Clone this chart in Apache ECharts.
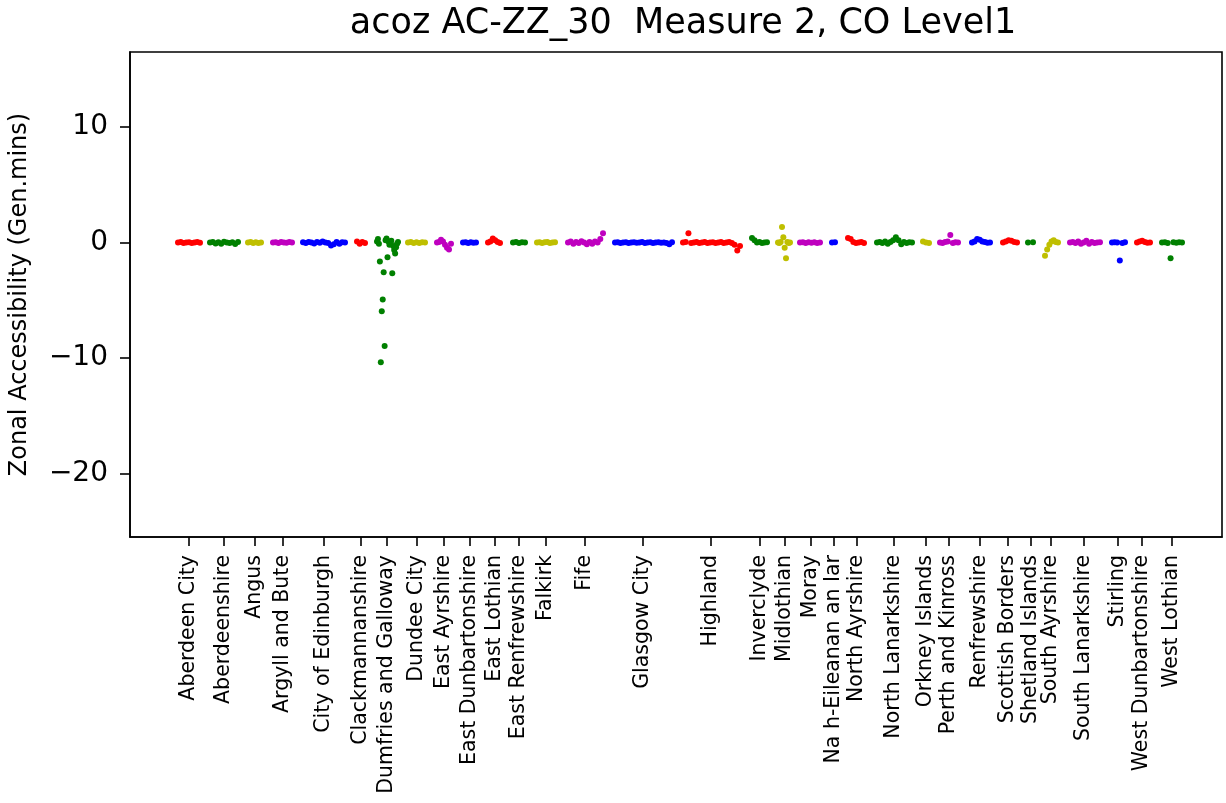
<!DOCTYPE html>
<html>
<head>
<meta charset="utf-8">
<script src="https://cdn.jsdelivr.net/npm/echarts@6/dist/echarts.min.js"></script>
<style>
  html, body { margin: 0; padding: 0; background: #fff; }
  #chart { width: 1226px; height: 803px; }
</style>
</head>
<body>
<div id="chart"></div>
<script>
// council areas, in plot order
const councils = ['Aberdeen City', 'Aberdeenshire', 'Angus', 'Argyll and Bute', 'City of Edinburgh',
  'Clackmannanshire', 'Dumfries and Galloway', 'Dundee City', 'East Ayrshire', 'East Dunbartonshire',
  'East Lothian', 'East Renfrewshire', 'Falkirk', 'Fife', 'Glasgow City', 'Highland', 'Inverclyde',
  'Midlothian', 'Moray', 'Na h-Eileanan an Iar', 'North Ayrshire', 'North Lanarkshire', 'Orkney Islands',
  'Perth and Kinross', 'Renfrewshire', 'Scottish Borders', 'Shetland Islands', 'South Ayrshire',
  'South Lanarkshire', 'Stirling', 'West Dunbartonshire', 'West Lothian']

// zone index range of each council on the x axis, and the tick (centre) position
const zoneFrom = [48, 80, 118, 143, 173, 227, 247, 278, 307, 333, 358, 383, 407, 438, 485, 553,
  622, 648, 670, 702, 718, 747, 793, 810, 842, 873, 898, 915, 940, 982, 1007, 1032]
const zoneTo = [70, 108, 131, 162, 215, 235, 268, 295, 321, 346, 370, 395, 425, 473, 542, 610,
  637, 660, 690, 705, 734, 782, 799, 828, 860, 887, 903, 928, 970, 995, 1020, 1052]
const tickPos = [58.3, 93.3, 125, 152.3, 194, 231, 256.7, 286.7, 314, 339.3, 364.3, 389, 416, 454.3,
  512.7, 581, 629.7, 654.4, 680.4, 703.5, 726.3, 763.4, 795.3, 818.5, 850, 878, 900.3, 921.1,
  953.8, 987.8, 1012.1, 1041.7]

// zonal accessibility values (Gen.mins) per council
const aberdeenCity = [0, 0.05, -0.05, 0, 0.02, -0.03, 0, 0.04, -0.02]
const aberdeenshire = [0, 0.05, -0.08, 0.03, -0.1, 0.06, 0, -0.05, 0.02, -0.12, 0.04]
const angus = [0, 0.04, -0.03, 0.02, -0.05, 0]
const argyll = [0, 0.03, -0.04, 0.05, 0, -0.02, 0.04, 0]
const edinburgh = [0.02, -0.05, 0.05, 0, -0.08, 0.04, -0.02, 0.08, 0, -0.05, -0.25, -0.15, 0.05, -0.1, 0.02, 0]
const clackmannan = [0.1, -0.1, 0.05, -0.05]
const dumfries = [0.1, 0.3, -0.1, -1.65, -10.36, -5.95, -4.93, -2.57, -8.97, 0.2, 0.35, -1.27, 0.1,
  -0.2, 0, 0.15, -2.65, -0.3, -0.65, -0.95, -0.4, -0.1, 0.05]
const dundee = [0, 0.04, -0.03, 0.02, -0.04, 0.03, 0]
const eastAyrshire = [0, 0.05, 0.25, 0.1, -0.2, -0.45, -0.6, -0.1]
const eastDunbarton = [0, 0.03, -0.04, 0.02, -0.02, 0]
const eastLothian = [0, 0.1, 0.35, 0.2, 0.05, -0.05]
const eastRenfrew = [0, 0.05, -0.03, 0.02, 0]
const falkirk = [0, 0.03, -0.04, 0.02, 0.05, -0.03, 0, 0.02]
const fife = [0, 0.1, -0.1, 0.05, -0.05, 0.12, 0, -0.15, 0.05, -0.1, 0.1, 0, 0.3, 0.8]
const glasgow = [0, 0.03, -0.03, 0, 0.02, -0.05, 0, 0.03, -0.02, 0, 0.04, -0.04, 0, 0.02, -0.03,
  0, 0.03, -0.02, 0, -0.04, -0.15, 0.02]
const highland = [0, 0.05, 0.8, -0.05, 0, 0.05, -0.05, 0, 0.05, -0.05, 0, 0.03, -0.03, 0, 0.05,
  -0.05, 0, 0.04, -0.04, -0.2, -0.7, -0.3]
const inverclyde = [0.4, 0.2, 0, 0.05, -0.05, 0, 0.02]
const midlothian = [0, -0.05, 0.05, 1.35, 0.45, -0.45, -1.35, 0.05, -0.05, 0]
const moray = [0, 0.03, -0.03, 0.02, -0.02, 0.03, -0.03, 0]
const eileanSiar = [0, 0.02]
const northAyrshire = [0.4, 0.3, 0.05, -0.05, 0, 0.05, -0.03]
const northLanark = [0, 0.05, -0.05, 0.1, -0.1, 0.05, 0.2, 0.45, 0.2, -0.15, 0.05, -0.05, 0.02, 0]
const orkney = [0.1, 0, -0.05]
const perth = [0, -0.05, 0.05, 0.1, 0.65, -0.05, 0.03, 0]
const renfrew = [0, 0.1, 0.3, 0.25, 0.1, 0.05, -0.02, 0]
const borders = [0, 0.1, 0.2, 0.15, 0.05, 0]
const shetland = [0, 0.02]
const southAyrshire = [-1.15, -0.6, -0.2, 0.1, 0.2, 0.05, 0]
const southLanark = [0, 0.05, -0.05, 0.1, -0.1, 0, 0.15, -0.1, 0.05, -0.05, 0, 0.02]
const stirling = [0, 0.03, 0, -1.55, -0.03, 0.02]
const westDunbarton = [0, 0.1, 0.15, 0.05, -0.02, 0]
const westLothian = [0, 0.02, -0.03, -1.35, 0.02, -0.02, 0.03, 0]

const valuesByCouncil = [aberdeenCity, aberdeenshire, angus, argyll, edinburgh, clackmannan, dumfries,
  dundee, eastAyrshire, eastDunbarton, eastLothian, eastRenfrew, falkirk, fife, glasgow, highland,
  inverclyde, midlothian, moray, eileanSiar, northAyrshire, northLanark, orkney, perth, renfrew,
  borders, shetland, southAyrshire, southLanark, stirling, westDunbarton, westLothian]

const yTicks = [-20, -10, 0, 10]

// matplotlib default cycle r, g, y, m, b
const palette = ['#ff0000', '#008000', '#bfbf00', '#bf00bf', '#0000ff']

const font = 'DejaVu Sans'
const minus = v => String(v).replace('-', '\u2212')

const series = councils.map((name, i) => {
  const vals = valuesByCouncil[i]
  const n = vals.length
  const step = n > 1 ? (zoneTo[i] - zoneFrom[i]) / (n - 1) : 0
  return {
    name: name,
    type: 'scatter',
    symbol: 'circle',
    symbolSize: 6,
    silent: true,
    itemStyle: { color: palette[i % palette.length], opacity: 1 },
    data: vals.map((v, k) => [zoneFrom[i] + k * step, v])
  }
})

const chart = echarts.init(document.getElementById('chart'), null, { renderer: 'canvas' })
chart.setOption({
  animation: false,
  backgroundColor: '#fff',
  title: {
    text: 'acoz AC-ZZ_30  Measure 2, CO Level1',
    left: 678,
    textAlign: 'center',
    top: 1,
    textStyle: { fontFamily: font, fontSize: 35, fontWeight: 'normal', color: '#000' }
  },
  grid: {
    left: 130, right: 4, top: 52, bottom: 266,
    show: true, borderColor: '#000', borderWidth: 1.6, backgroundColor: 'transparent'
  },
  xAxis: {
    type: 'value',
    min: 0,
    max: 1092,
    splitLine: { show: false },
    axisLine: { show: true, onZero: false, lineStyle: { color: '#000', width: 1.6 } },
    axisTick: {
      show: true, inside: false, length: 9,
      customValues: tickPos,
      lineStyle: { color: '#000', width: 1.6 }
    },
    axisLabel: {
      customValues: tickPos,
      rotate: 90,
      margin: 18,
      fontFamily: font,
      fontSize: 20.5,
      color: '#000',
      formatter: v => {
        let best = 0
        tickPos.forEach((t, i) => { if (Math.abs(t - v) < Math.abs(tickPos[best] - v)) best = i })
        return councils[best]
      }
    }
  },
  yAxis: {
    type: 'value',
    min: -25.5,
    max: 16.5,
    name: 'Zonal Accessibility (Gen.mins)',
    nameLocation: 'middle',
    nameGap: 98,
    nameRotate: 90,
    nameTextStyle: { fontFamily: font, fontSize: 24, color: '#000' },
    splitLine: { show: false },
    axisLine: { show: true, lineStyle: { color: '#000', width: 1.6 } },
    axisTick: {
      show: true, inside: false, length: 10,
      customValues: yTicks,
      lineStyle: { color: '#000', width: 1.6 }
    },
    axisLabel: {
      customValues: yTicks,
      margin: 22,
      fontFamily: font,
      fontSize: 28,
      color: '#000',
      formatter: minus
    }
  },
  series: series
})
</script>
</body>
</html>
